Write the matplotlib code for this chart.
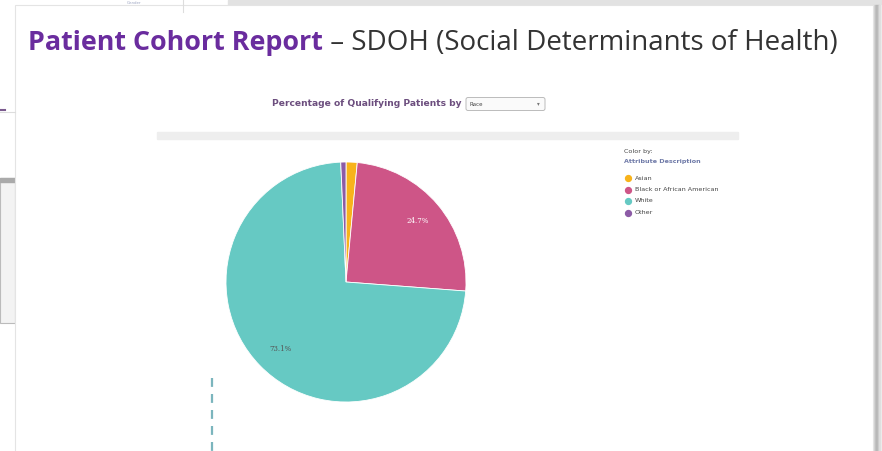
import matplotlib
matplotlib.use("Agg")
import matplotlib.pyplot as plt
from matplotlib.patches import Rectangle, FancyBboxPatch

# data
races = ["Asian", "Black or African American", "White", "Other"]
shares = [1.5, 24.7, 73.1, 0.7]
race_colors = ["#F8B31B", "#CE5587", "#66C9C3", "#8C5BA6"]
shown_labels = {"Black or African American": "white", "White": "#555555"}

title_main = "Patient Cohort Report"
title_rest = " \u2013 SDOH (Social Determinants of Health)"
subtitle = "Percentage of Qualifying Patients by"
dropdown_value = "Race"

W, H = 882, 451
fig = plt.figure(figsize=(W / 100, H / 100), dpi=100)
fig.patch.set_facecolor("white")

# pixel-space canvas for the page furniture
bg = fig.add_axes([0, 0, 1, 1])
bg.set_xlim(0, W)
bg.set_ylim(H, 0)
bg.axis("off")

# slides behind the front one
bg.add_patch(Rectangle((228, 0), W - 228, 5, color="#E2E2E2", zorder=0))
bg.add_patch(Rectangle((0, 178), 15, 145, facecolor="#F3F3F3", edgecolor="#BBBBBB", lw=0.8, zorder=0))
bg.add_patch(Rectangle((0, 178), 15, 4, color="#AAAAAA", zorder=0))
bg.plot([0, 15], [112, 112], color="#DDDDDD", lw=0.8)
bg.plot([0, 5], [110, 110], color="#7B5B8E", lw=1.5)
bg.plot([183, 183], [0, 12], color="#DDDDDD", lw=0.8)
bg.text(127, 0.5, "Gender", fontsize=2.8, color="#9AA3C0", va="top")

# front slide with shadow on the right edge
for i, c in enumerate(["#D6D6D6", "#C4C4C4", "#B8B8B8", "#C8C8C8", "#DDDDDD", "#EBEBEB"]):
    bg.add_patch(Rectangle((873 + i * 1.5, 5), 1.5, H, color=c, zorder=1))
bg.add_patch(Rectangle((15, 5), 858, H, facecolor="white", edgecolor="#E4E4E4", lw=0.8, zorder=1))

# title, sized so both parts span the same width as the reference
fig.canvas.draw()
ren = fig.canvas.get_renderer()
t1 = bg.text(28, 50, title_main, fontsize=20, fontweight="bold", color="#6A2C9E",
             family="Open Sans", va="baseline", zorder=3)
w1 = t1.get_window_extent(ren).width
t1.set_fontsize(20 * 295 / w1)
w1 = t1.get_window_extent(ren).width
t2 = bg.text(28 + w1, 50, title_rest, fontsize=20, color="#333333",
             family="Open Sans", va="baseline", zorder=3)
w2 = t2.get_window_extent(ren).width
t2.set_fontsize(20 * (838 - 28 - w1) / w2)

# subtitle + dropdown
bg.text(462, 104, subtitle, fontsize=6.6, fontweight="bold", color="#6C4E7E",
        ha="right", va="center", zorder=3)
bg.add_patch(FancyBboxPatch((466, 97.5), 79, 13, boxstyle="round,pad=0,rounding_size=2",
                            facecolor="#FAFAFA", edgecolor="#BBBBBB", lw=0.7, zorder=3))
bg.text(469, 104, dropdown_value, fontsize=4, color="#444444", va="center", zorder=4)
bg.text(538, 104, "\u25be", fontsize=4, color="#777777", ha="center", va="center", zorder=4)

# grey band above the chart
bg.add_patch(Rectangle((157, 132), 581, 7, color="#EEEEEE", zorder=2))

# legend
bg.text(624, 151, "Color by:", fontsize=4.6, color="#444444", va="center", zorder=3)
bg.text(624, 162, "Attribute Description", fontsize=4.6, fontweight="bold",
        color="#6F7AA8", va="center", zorder=3)
for k, (name, col) in enumerate(zip(races, race_colors)):
    y = 178 + k * 11.5
    bg.scatter([628], [y], s=18, color=col, zorder=3)
    bg.text(635, y, name, fontsize=4.6, color="#444444", va="center", zorder=3)

# dashed connector bottom-left
bg.plot([212, 212], [378, H], color="#7BB5BD", lw=1.6, ls=(0, (4, 3.2)), zorder=3)

# pie chart
cx, cy, r = 346, 282, 120
pax = fig.add_axes([(cx - r) / W, 1 - (cy + r) / H, 2 * r / W, 2 * r / H])
wedges, _ = pax.pie(shares, colors=race_colors, startangle=90, counterclock=False,
                    wedgeprops=dict(edgecolor="white", linewidth=0.6))
pax.set_aspect("equal")
pax.set_xlim(-1, 1)
pax.set_ylim(-1, 1)
pax.axis("off")

label_pos = {"Black or African American": (418, 221), "White": (281, 349)}
for name, val in zip(races, shares):
    if name in shown_labels:
        x, y = label_pos[name]
        pax.text((x - cx) / r, -(y - cy) / r, f"{val}%", fontsize=5, family="DejaVu Serif",
                 color=shown_labels[name], ha="center", va="center", zorder=5)

fig.savefig("out.png", dpi=100, facecolor=fig.get_facecolor())
